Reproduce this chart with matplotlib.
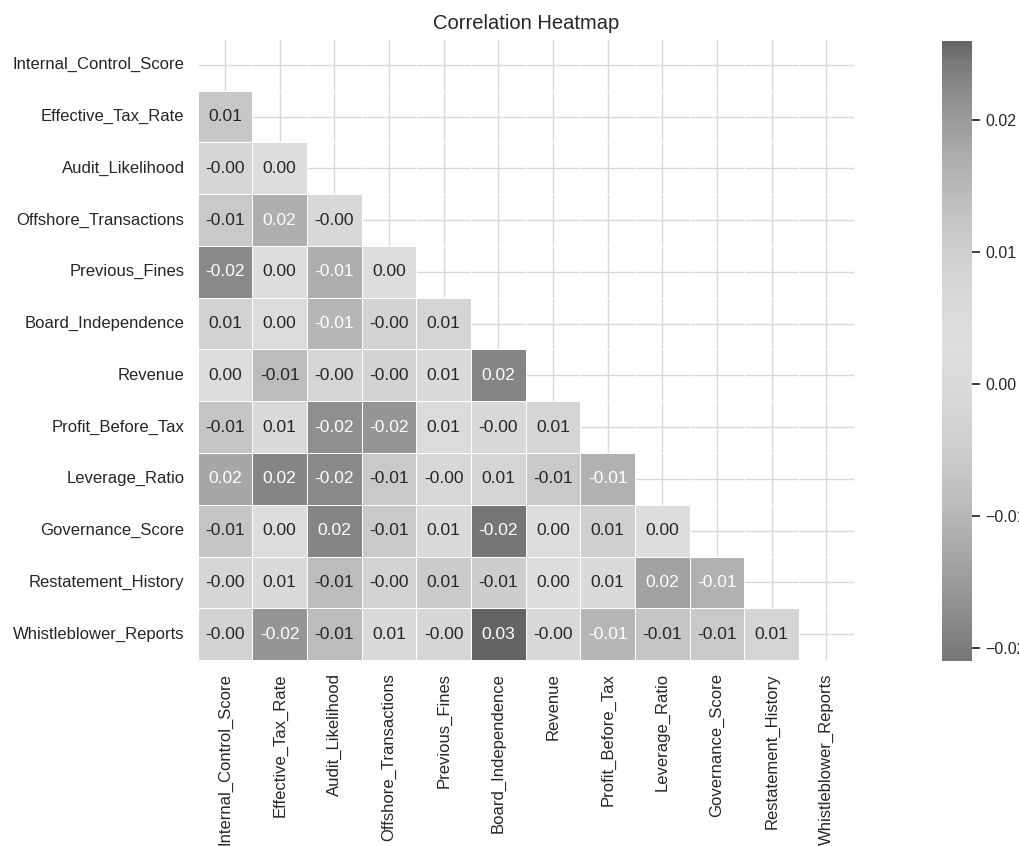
import numpy as np
import pandas as pd
import matplotlib
matplotlib.use("Agg")
import matplotlib.pyplot as plt
import seaborn as sns
from matplotlib.colors import ListedColormap

sns.set_theme(style="whitegrid")
plt.rcParams["font.family"] = ["Liberation Sans", "DejaVu Sans"]

features = [
    "Internal_Control_Score", "Effective_Tax_Rate", "Audit_Likelihood",
    "Offshore_Transactions", "Previous_Fines", "Board_Independence",
    "Revenue", "Profit_Before_Tax", "Leverage_Ratio", "Governance_Score",
    "Restatement_History", "Whistleblower_Reports",
]

# Lower-triangle correlations, one list per row (columns left of the diagonal)
row_effective_tax = [0.012]
row_audit = [-0.002, 0.003]
row_offshore = [-0.006, 0.017, -0.001]
row_prev_fines = [-0.018, 0.002, -0.012, 0.004]
row_board = [0.009, 0.001, -0.010, -0.003, 0.008]
row_revenue = [0.003, -0.009, -0.002, -0.003, 0.006, 0.023]
row_profit = [-0.007, 0.006, -0.017, -0.016, 0.005, -0.001, 0.008]
row_leverage = [0.018, 0.023, -0.018, -0.006, -0.001, 0.008, -0.006, -0.011]
row_governance = [-0.007, 0.002, 0.023, -0.006, 0.006, -0.021, 0.003, 0.010, 0.004]
row_restatement = [-0.002, 0.006, -0.009, -0.003, 0.011, -0.005, 0.003, 0.006, 0.019, -0.011]
row_whistle = [-0.003, -0.016, -0.009, 0.006, -0.002, 0.026, -0.001, -0.010, -0.007, -0.006, 0.008]

lower_rows = [[], row_effective_tax, row_audit, row_offshore, row_prev_fines,
              row_board, row_revenue, row_profit, row_leverage, row_governance,
              row_restatement, row_whistle]

n = len(features)
corr = np.eye(n)
for i, vals in enumerate(lower_rows):
    for j, v in enumerate(vals):
        corr[i, j] = v
        corr[j, i] = v
corr_df = pd.DataFrame(corr, index=features, columns=features)
mask = np.triu(np.ones_like(corr, dtype=bool))

# Greyscale rendering of the diverging coolwarm palette
base = plt.get_cmap("coolwarm")(np.linspace(0, 1, 256))[:, :3] * 255
lum = 0.299 * base[:, 0] + 0.587 * base[:, 1] + 0.114 * base[:, 2]
grey = np.clip((54.5 + 0.758 * lum) / 255, 0, 1)
grey_cmap = ListedColormap(np.column_stack([grey, grey, grey]))

W, H = 1019, 846
fig = plt.figure(figsize=(W / 100, H / 100), dpi=100)
ax = fig.add_axes([197.7 / W, 1 - 660 / H, (853.6 - 197.7) / W, (660 - 39) / H])
cax = fig.add_axes([942 / W, 1 - 661 / H, 30 / W, (661 - 41) / H])

sns.heatmap(corr_df, mask=mask, annot=True, fmt=".2f", cmap="coolwarm",
            linewidths=0.5, linecolor="white", ax=ax, cbar_ax=cax,
            annot_kws={"size": 12.5})
ax.collections[0].set_cmap(grey_cmap)

ax.grid(True, color="0.85", linewidth=1)
ax.set_axisbelow(True)
ax.tick_params(axis="x", labelsize=12, rotation=90)
ax.tick_params(axis="y", labelsize=12, rotation=0)
ax.set_title("Correlation Heatmap", fontsize=14.5, pad=7)
cax.tick_params(labelsize=11.5)

fig.savefig("out.png", dpi=100)
